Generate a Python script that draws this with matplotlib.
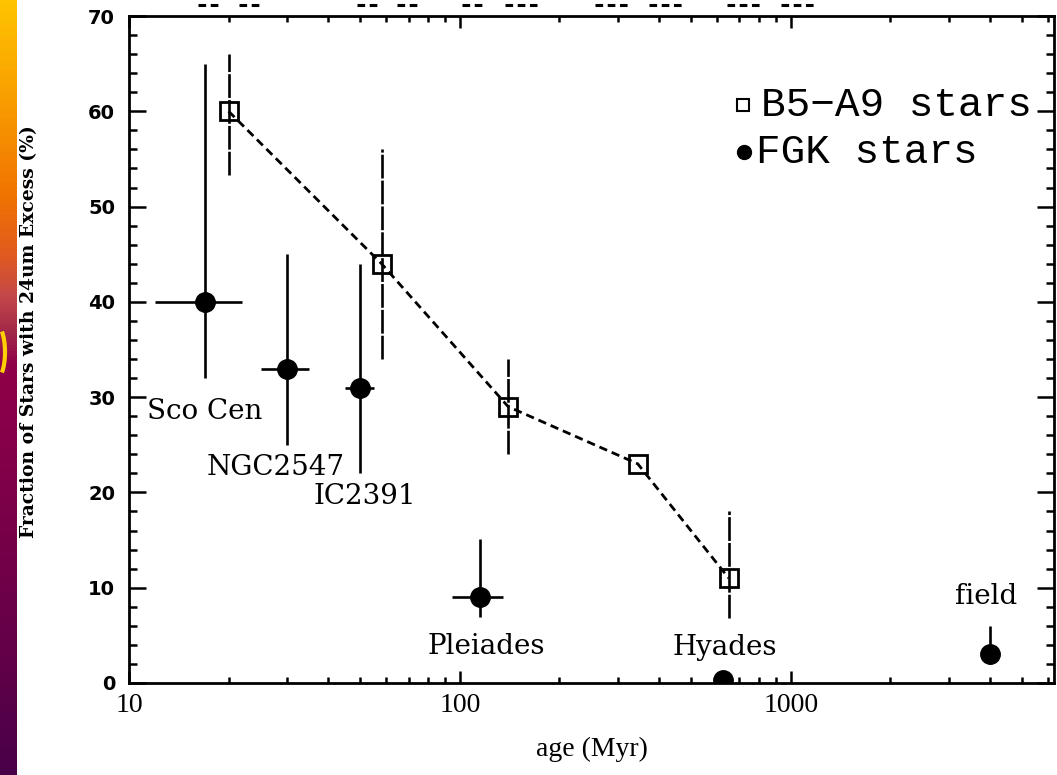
import numpy as np
import matplotlib
matplotlib.use('Agg')
import matplotlib.pyplot as plt
from matplotlib.colors import LinearSegmentedColormap
from matplotlib.lines import Line2D
from matplotlib.patches import Arc
from matplotlib.ticker import LogLocator, MultipleLocator, FixedLocator, FixedFormatter

# ---------------- data ----------------
ba_age = [20, 58, 140, 345, 650]
ba_frac = [60, 44, 29, 23, 11]
ba_err_lo = [6.7, 10, 5, 0, 4.2]
ba_err_hi = [6, 12, 5, 0, 7]

fgk_names = ['Sco Cen', 'NGC2547', 'IC2391', 'Pleiades', 'Hyades', 'field']
fgk_age = [17, 30, 50, 115, 625, 4000]
fgk_age_lo = [12, 25, 45, 95, 625, 4000]
fgk_age_hi = [22, 35, 55, 135, 625, 4000]
fgk_frac = [40, 33, 31, 9, 0.3, 3]
fgk_err_lo = [8, 8, 9, 2.1, 0, 1]
fgk_err_hi = [25, 12, 13, 6.1, 0, 3]

x_ticks = [10, 100, 1000]
x_ticklabels = ['10', '100', '1000']
y_ticks = [0, 10, 20, 30, 40, 50, 60, 70]

legend_labels = ['B5\u2212A9 stars', 'FGK stars']

# label offsets in pixels relative to each FGK point
label_offsets = [(-1, -110), (-11, -99), (5, -109), (6, -49), (2, 33), (-4, 58)]

W, H = 1057, 775
fig = plt.figure(figsize=(W / 100, H / 100), dpi=100)
fig.patch.set_facecolor('white')

# left gradient strip
strip = fig.add_axes([0, 0, 17 / W, 1])
cmap = LinearSegmentedColormap.from_list('strip', [
    (0.0, '#FFC400'), (0.12, '#F9A000'), (0.25, '#F07400'), (0.33, '#E05A20'),
    (0.38, '#C44848'), (0.43, '#A02848'), (0.47, '#900048'), (0.65, '#7C0048'),
    (0.85, '#620048'), (1.0, '#480048')])
grad = np.linspace(0, 1, 256).reshape(-1, 1)
strip.imshow(grad, aspect='auto', cmap=cmap, extent=[0, 1, 1, 0])
strip.set_axis_off()
fig.add_artist(Arc((-3 / W, 1 - 352 / H), 16 / W, 52 / H, theta1=-80, theta2=80,
                   transform=fig.transFigure, color='#FFD000', lw=3.0))

ax = fig.add_axes([129 / W, 1 - 683 / H, (1054 - 129) / W, (683 - 16) / H])
ax.set_xscale('log')
ax.set_xlim(10, 6250)
ax.set_ylim(0, 70)

# B5-A9: dashed connecting line, dashed error bars, open squares
ax.plot(ba_age, ba_frac, color='black', lw=2.0, linestyle=(0, (3, 1.8)), zorder=2)
eb = ax.errorbar(ba_age, ba_frac, yerr=[ba_err_lo, ba_err_hi], fmt='none',
                 ecolor='black', elinewidth=1.9, capsize=0, zorder=2)
for c in eb.lines[2]:
    c.set_linestyle((0, (9, 0.8)))
ax.plot(ba_age, ba_frac, linestyle='none', marker='s', markersize=13,
        markerfacecolor='none', markeredgecolor='black', markeredgewidth=2.0, zorder=3)

# FGK: solid error bars, filled circles
xerr = [np.array(fgk_age) - np.array(fgk_age_lo), np.array(fgk_age_hi) - np.array(fgk_age)]
ax.errorbar(fgk_age, fgk_frac, xerr=xerr, yerr=[fgk_err_lo, fgk_err_hi], fmt='o',
            color='black', markersize=14, elinewidth=1.9, capsize=0, zorder=3)

for name, a, f, off in zip(fgk_names, fgk_age, fgk_frac, label_offsets):
    ax.annotate(name, xy=(a, f), xytext=off, textcoords='offset pixels',
                ha='center', va='center', fontsize=20, family='DejaVu Serif')

# legend (manual)
ax.plot([0.664], [0.866], transform=ax.transAxes, marker='s', markersize=8,
        markerfacecolor='none', markeredgecolor='black', markeredgewidth=1.5,
        clip_on=False, linestyle='none')
ax.text(0.683, 0.866, legend_labels[0], transform=ax.transAxes, ha='left',
        va='center', fontsize=29.5, family='Liberation Mono')
ax.plot([0.665], [0.796], transform=ax.transAxes, marker='o', markersize=10,
        color='black', clip_on=False, linestyle='none')
ax.text(0.678, 0.796, legend_labels[1], transform=ax.transAxes, ha='left',
        va='center', fontsize=29.5, family='Liberation Mono')

# axes styling
for s in ax.spines.values():
    s.set_linewidth(2.0)
ax.xaxis.set_major_locator(FixedLocator(x_ticks))
ax.xaxis.set_major_formatter(FixedFormatter(x_ticklabels))
ax.xaxis.set_minor_locator(LogLocator(base=10, subs=np.arange(2, 10)))
ax.xaxis.set_minor_formatter(plt.NullFormatter())
ax.yaxis.set_major_locator(FixedLocator(y_ticks))
ax.yaxis.set_minor_locator(MultipleLocator(2))
ax.tick_params(axis='x', which='major', direction='in', length=8.6, width=1.8,
               top=True, bottom=True, pad=7)
ax.tick_params(axis='x', which='minor', direction='in', length=4.3, width=1.8,
               top=True, bottom=True)
ax.tick_params(axis='y', which='major', direction='in', length=12.2, width=1.8,
               left=True, right=True, pad=10)
ax.tick_params(axis='y', which='minor', direction='in', length=5.8, width=1.8,
               left=True, right=True)
for lab in ax.get_xticklabels():
    lab.set_family('Liberation Serif')
    lab.set_fontsize(20)
for lab in ax.get_yticklabels():
    lab.set_family('DejaVu Sans')
    lab.set_fontweight('bold')
    lab.set_fontsize(14)

ax.set_xlabel('age (Myr)', family='Liberation Serif', fontsize=20, labelpad=14)
fig.text(29 / W, 1 - 332 / H, 'Fraction of Stars with 24um Excess (%)',
         rotation=90, ha='center', va='center', family='DejaVu Serif',
         fontweight='bold', fontsize=13.5)

# cut-off marks at the very top of the image
top_segments = [(198, 218), (239, 259), (357, 378), (397, 419), (462, 484),
                (505, 537), (595, 629), (649, 683), (727, 761), (781, 814)]
for x0, x1 in top_segments:
    fig.add_artist(Line2D([x0 / W, x1 / W], [1 - 5 / H, 1 - 5 / H],
                          transform=fig.transFigure, color='black', lw=2.2,
                          linestyle=(0, (2.5, 1.5))))

fig.savefig('out.png', dpi=100, facecolor='white')
